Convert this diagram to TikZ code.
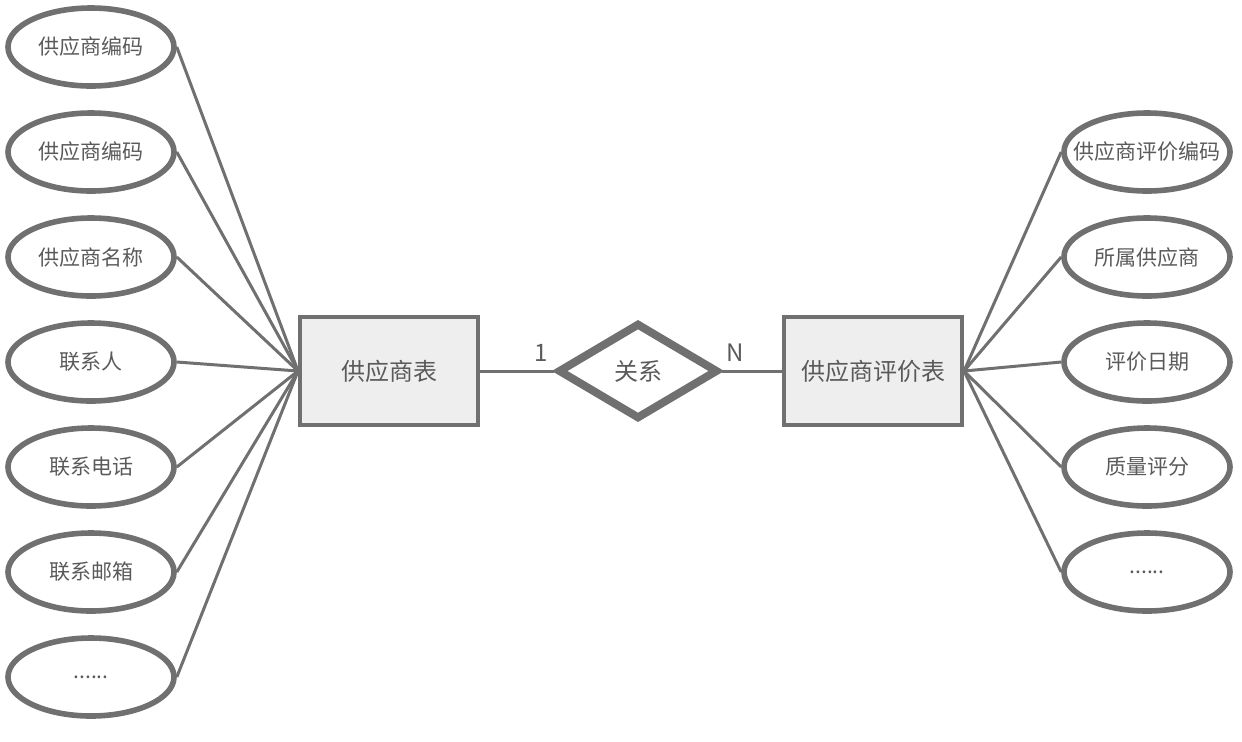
\documentclass[tikz,border=0pt]{standalone}
\usepackage{fontspec}
\setmainfont{Noto Sans CJK SC}
\usetikzlibrary{shapes.geometric}
\definecolor{ergray}{HTML}{707070}
\definecolor{ertext}{HTML}{5A5A5A}
\definecolor{erfill}{HTML}{EEEEEE}
\newcommand{\ermore}{......}

\begin{document}
\begin{tikzpicture}[x=0.5pt, y=-0.5pt,
        entity/.style={draw=ergray, line width=2pt, fill=erfill, minimum width=89pt, minimum height=54pt, inner sep=0pt, text=ertext, font=\fontsize{12}{14}\selectfont},
        attr/.style={ellipse, draw=ergray, line width=2.8pt, minimum width=83pt, minimum height=39pt, inner sep=0pt, text=ertext, font=\fontsize{10.5}{12}\selectfont},
        rel/.style={diamond, draw=ergray, line width=4pt, minimum width=80pt, minimum height=48pt, inner sep=0pt, text=ertext, font=\fontsize{12}{14}\selectfont},
        link/.style={draw=ergray, line width=1.5pt},
        card/.style={text=ertext, inner sep=0pt, font=\fontsize{12}{14}\selectfont}]
        \useasboundingbox (0,0) rectangle (1242,741);

        % Entities and relationship
        \node[entity] (sup) at (389,371) {供应商表};
        \node[entity] (eval) at (873,371) {供应商评价表};
        \node[rel] (rel) at (638,371) {关系};

        \draw[link] (sup.east) -- (rel.west);
        \draw[link] (rel.east) -- (eval.west);

        % Cardinalities
        \node[card] (one) at (541,353) {1};
        \node[card] (many) at (735,353) {N};

        % Attributes of the supplier table
        \foreach \name/\txt [count=\i] in {sa/供应商编码, sb/供应商编码, sc/供应商名称, sd/联系人, se/联系电话, sf/联系邮箱, sg/\ermore} {
            \node[attr] (\name) at (91,{47+105*(\i-1)}) {\makebox[0pt]{\txt}};
            \draw[link] (\name.east) -- (sup.west);
        }

        % Attributes of the evaluation table
        \foreach \name/\txt [count=\i] in {ea/供应商评价编码, eb/所属供应商, ec/评价日期, ed/质量评分, ee/\ermore} {
            \node[attr] (\name) at (1147,{152+105*(\i-1)}) {\makebox[0pt]{\txt}};
            \draw[link] (eval.east) -- (\name.west);
        }
    \end{tikzpicture}
\end{document}
